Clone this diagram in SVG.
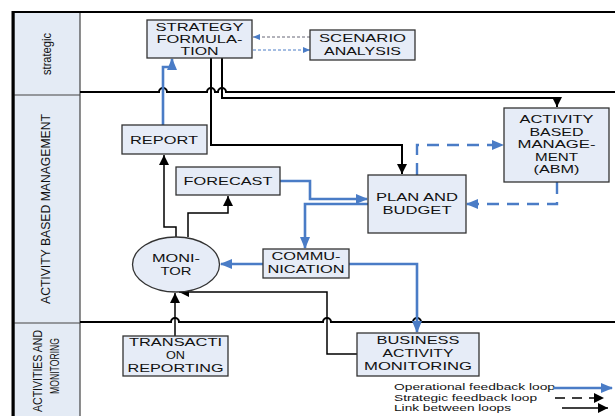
<svg xmlns="http://www.w3.org/2000/svg" width="615" height="416" viewBox="0 0 615 416">
<defs>
<style>
.box{fill:#e6ecf7;stroke:#333;stroke-width:1.3}
.t{font-family:"Liberation Sans",Arial,sans-serif;font-size:11px;fill:#111;text-anchor:middle}
.lane{font-family:"Liberation Sans",Arial,sans-serif;font-size:12px;fill:#111;text-anchor:middle}
.lg{font-family:"Liberation Sans",Arial,sans-serif;font-size:9.5px;fill:#111}
.blue{fill:none;stroke:#4a7cc6;stroke-width:2.6}
.blk{fill:none;stroke:#000;stroke-width:1.5}
.blk2{fill:none;stroke:#000;stroke-width:2}
.dash{fill:none;stroke:#4a7cc6;stroke-width:2.4;stroke-dasharray:12,8}
.div{fill:none;stroke:#000;stroke-width:2}
</style>
<marker id="ab" markerWidth="12" markerHeight="10" refX="11" refY="5" orient="auto" markerUnits="userSpaceOnUse"><path d="M0,0 L12,5 L0,10 Z" fill="#4a7cc6"/></marker>
<marker id="ak" markerWidth="10" markerHeight="10" refX="10" refY="5" orient="auto" markerUnits="userSpaceOnUse"><path d="M0,0 L10,5 L0,10 Z" fill="#000"/></marker>
<marker id="as" markerWidth="7" markerHeight="6" refX="7" refY="3" orient="auto" markerUnits="userSpaceOnUse"><path d="M0,0 L7,3 L0,6 Z" fill="#4a7cc6"/></marker>
</defs>
<rect width="615" height="416" fill="#fff"/>

<g id="lanes">
<rect x="14" y="12" width="66" height="410" fill="#e4ebf5" stroke="#444" stroke-width="1.2"/>
<line x1="14" y1="95" x2="80" y2="95" stroke="#444" stroke-width="1.2"/>
<line x1="14" y1="323" x2="80" y2="323" stroke="#444" stroke-width="1.2"/>
<line x1="13" y1="11" x2="13" y2="416" stroke="#000" stroke-width="3"/>
<line x1="12" y1="12" x2="615" y2="12" stroke="#000" stroke-width="2"/>
<path class="div" d="M80,92 H159 a4,4 0 0 1 8,0 H207 a4,4 0 0 1 8,0 H218 a4,4 0 0 1 8,0 H615"/>
<path class="div" d="M80,322 H171 a4,4 0 0 1 8,0 H323 a4,4 0 0 1 8,0 H413 a4,4 0 0 1 8,0 H615"/>
<text class="lane" transform="translate(51,54) rotate(-90)" textLength="42" lengthAdjust="spacingAndGlyphs">strategic</text>
<text class="lane" transform="translate(50,209) rotate(-90)" textLength="190" lengthAdjust="spacingAndGlyphs">ACTIVITY BASED MANAGEMENT</text>
<text class="lane" transform="translate(42,371) rotate(-90)" textLength="82" lengthAdjust="spacingAndGlyphs">ACTIVITIES AND</text>
<text class="lane" transform="translate(59,366) rotate(-90)" textLength="56" lengthAdjust="spacingAndGlyphs">MONITORING</text>
</g>

<g id="connectors">
<line x1="310" y1="37" x2="253" y2="37" stroke="#667" stroke-width="1" stroke-dasharray="3,2" marker-end="url(#as)"/>
<line x1="253" y1="50" x2="310" y2="50" stroke="#4a7cc6" stroke-width="1" stroke-dasharray="3,2" marker-end="url(#as)"/>
<path class="blue" d="M163,125 V67 H172 V59" marker-end="url(#ab)"/>
<path class="blk2" d="M211,58 V145 H402 V174" marker-end="url(#ak)"/>
<path class="blk2" d="M222,58 V98 H557 V107" marker-end="url(#ak)"/>
<path class="blue" d="M280,181 H310 V199 H367" marker-end="url(#ab)"/>
<path class="blue" d="M368,204 H305 V248" marker-end="url(#ab)"/>
<path class="dash" d="M417,175 V145 H503" marker-end="url(#ab)"/>
<path class="dash" d="M557,182 V204 H467" marker-end="url(#ab)"/>
<path class="blue" d="M263,264 H221" marker-end="url(#ab)"/>
<path class="blue" d="M349,264 H417 V332" marker-end="url(#ab)"/>
<path class="blk" d="M176,237 V227 H164 V155" marker-end="url(#ak)"/>
<path class="blk" d="M188,237 V213 H228 V196" marker-end="url(#ak)"/>
<path class="blk" d="M175,336 V293" marker-end="url(#ak)"/>
<path class="blk" d="M357,354 H327 V292 H179" marker-end="url(#ak)"/>
</g>

<g id="strategy">
<rect class="box" x="147" y="20" width="105" height="38"/>
<text class="t" x="199.5" y="31" textLength="88" lengthAdjust="spacingAndGlyphs">STRATEGY</text>
<text class="t" x="199.5" y="43" textLength="86" lengthAdjust="spacingAndGlyphs">FORMULA-</text>
<text class="t" x="199.5" y="55" textLength="38" lengthAdjust="spacingAndGlyphs">TION</text>
</g>
<g id="scenario">
<rect class="box" x="310" y="30" width="105" height="30"/>
<text class="t" x="362.5" y="42" textLength="87" lengthAdjust="spacingAndGlyphs">SCENARIO</text>
<text class="t" x="362.5" y="55" textLength="77" lengthAdjust="spacingAndGlyphs">ANALYSIS</text>
</g>
<g id="report">
<rect class="box" x="122" y="125" width="85" height="29"/>
<text class="t" x="164" y="144" textLength="68" lengthAdjust="spacingAndGlyphs">REPORT</text>
</g>
<g id="forecast">
<rect class="box" x="176" y="167" width="104" height="28"/>
<text class="t" x="228" y="185" textLength="89" lengthAdjust="spacingAndGlyphs">FORECAST</text>
</g>
<g id="plan">
<rect class="box" x="368" y="175" width="98" height="58"/>
<text class="t" x="417" y="201" textLength="82" lengthAdjust="spacingAndGlyphs">PLAN AND</text>
<text class="t" x="417" y="214" textLength="69" lengthAdjust="spacingAndGlyphs">BUDGET</text>
</g>
<g id="abm">
<rect class="box" x="504" y="108" width="105" height="74"/>
<text class="t" x="556.5" y="123" textLength="74" lengthAdjust="spacingAndGlyphs">ACTIVITY</text>
<text class="t" x="556.5" y="136" textLength="54" lengthAdjust="spacingAndGlyphs">BASED</text>
<text class="t" x="556.5" y="148" textLength="78" lengthAdjust="spacingAndGlyphs">MANAGE-</text>
<text class="t" x="556.5" y="161" textLength="43" lengthAdjust="spacingAndGlyphs">MENT</text>
<text class="t" x="556.5" y="173" textLength="46" lengthAdjust="spacingAndGlyphs">(ABM)</text>
</g>
<g id="communication">
<rect class="box" x="263" y="249" width="86" height="29"/>
<text class="t" x="306" y="260" textLength="69" lengthAdjust="spacingAndGlyphs">COMMU-</text>
<text class="t" x="306" y="273" textLength="77" lengthAdjust="spacingAndGlyphs">NICATION</text>
</g>
<g id="monitor">
<ellipse class="box" cx="176" cy="264.5" rx="43.5" ry="27.5"/>
<text class="t" x="176" y="262" textLength="48" lengthAdjust="spacingAndGlyphs">MONI-</text>
<text class="t" x="176" y="275" textLength="31" lengthAdjust="spacingAndGlyphs">TOR</text>
</g>
<g id="transaction">
<rect class="box" x="123" y="336" width="105" height="40"/>
<text class="t" x="175.5" y="346" textLength="93" lengthAdjust="spacingAndGlyphs">TRANSACTI</text>
<text class="t" x="175.5" y="359" textLength="19" lengthAdjust="spacingAndGlyphs">ON</text>
<text class="t" x="175.5" y="372" textLength="96" lengthAdjust="spacingAndGlyphs">REPORTING</text>
</g>
<g id="bam">
<rect class="box" x="357" y="333" width="122" height="43"/>
<text class="t" x="418" y="344" textLength="83" lengthAdjust="spacingAndGlyphs">BUSINESS</text>
<text class="t" x="418" y="357" textLength="71" lengthAdjust="spacingAndGlyphs">ACTIVITY</text>
<text class="t" x="418" y="370" textLength="108" lengthAdjust="spacingAndGlyphs">MONITORING</text>
</g>

<g id="legend">
<text class="lg" x="394" y="390" textLength="161" lengthAdjust="spacingAndGlyphs">Operational feedback loop</text>
<text class="lg" x="394" y="401" textLength="143" lengthAdjust="spacingAndGlyphs">Strategic feedback loop</text>
<text class="lg" x="394" y="411" textLength="117" lengthAdjust="spacingAndGlyphs">Link between loops</text>
<line x1="553" y1="388" x2="612" y2="388" stroke="#4a7cc6" stroke-width="2.6" marker-end="url(#ab)"/>
<line x1="555" y1="398" x2="604" y2="398" stroke="#000" stroke-width="1.3" stroke-dasharray="10,7" marker-end="url(#ak)"/>
<line x1="562" y1="408" x2="608" y2="408" stroke="#000" stroke-width="1.3" marker-end="url(#ak)"/>
</g>
</svg>
